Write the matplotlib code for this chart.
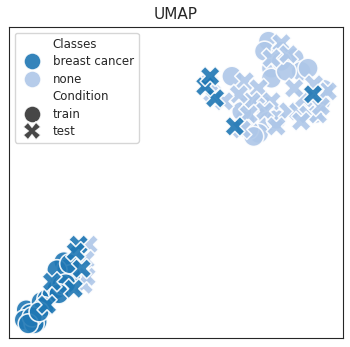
import matplotlib
matplotlib.use("Agg")
import matplotlib.pyplot as plt
import pandas as pd
import seaborn as sns

# UMAP embedding coordinates (arbitrary units)
bc_train_x = [22, 26, 20, 33, 30, 37, 43, 48, 53, 57, 60, 63, 67, 53, 58, 40, 28, 62, 55, 24, 35, 66]
bc_train_y = [-308, -312, -318, -320, -322, -300, -297, -293, -287, -277, -260, -267, -273, -268, -283, -305, -315, -282, -292, -322, -310, -262]
bc_test_x = [75, 72, 78, 70, 48, 43, 213, 233, 312, 203, 208]
bc_test_y = [-243, -250, -267, -287, -280, -303, -97, -125, -93, -85, -75]

none_train_x = [267, 263, 270, 280, 293, 300, 230, 270, 247, 260, 267, 257, 247, 243, 320, 323, 307, 280, 285, 240, 252, 275, 315]
none_train_y = [-40, -50, -67, -50, -57, -70, -75, -77, -103, -103, -120, -132, -128, -118, -100, -88, -67, -60, -70, -110, -135, -118, -112]
none_test_x = [210, 207, 243, 257, 250, 270, 287, 297, 307, 317, 327, 313, 303, 280, 287, 270, 263, 247, 237, 293, 85, 82, 80, 83, 222, 275, 300, 240, 320]
none_test_y = [-92, -82, -80, -87, -100, -100, -110, -110, -113, -113, -90, -83, -97, -42, -53, -57, -110, -113, -93, -87, -243, -258, -283, -275, -100, -125, -120, -128, -105]

CLASSES = ["breast cancer", "none"]
CONDITIONS = ["train", "test"]
COLORS = ["#1f77b4", "#aec7e8"]


def build_frame() -> pd.DataFrame:
    parts = []
    for cls, cond, xs, ys in [
        ("none", "train", none_train_x, none_train_y),
        ("none", "test", none_test_x, none_test_y),
        ("breast cancer", "train", bc_train_x, bc_train_y),
        ("breast cancer", "test", bc_test_x, bc_test_y),
    ]:
        parts.append(pd.DataFrame({"x": xs, "y": ys, "Classes": cls, "Condition": cond}))
    return pd.concat(parts, ignore_index=True)


def show_chart(df: pd.DataFrame) -> None:
    sns.set_style("white")
    fig = plt.figure(figsize=(3.5, 3.47), dpi=100)
    ax = fig.add_axes([0.026, 0.026, 0.954, 0.896])

    sns.scatterplot(
        data=df, x="x", y="y", hue="Classes", style="Condition",
        hue_order=CLASSES, style_order=CONDITIONS, palette=COLORS,
        s=210, alpha=0.9, ax=ax,
    )

    ax.set_xticks([])
    ax.set_yticks([])
    ax.set_xlabel("")
    ax.set_ylabel("")
    ax.set_title("UMAP", fontsize=11)
    ax.legend(loc="upper left", fontsize=8.5, labelspacing=0.38, markerscale=0.85)

    fig.savefig("out.png", dpi=100)


if __name__ == "__main__":
    show_chart(build_frame())
